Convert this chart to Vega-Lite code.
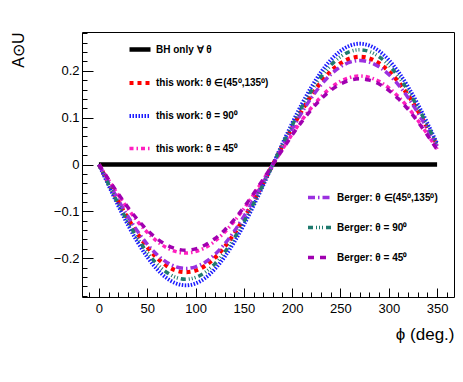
{
  "$schema": "https://vega.github.io/schema/vega-lite/v6.json",
  "width": 372,
  "height": 265,
  "autosize": "none",
  "padding": {"left": 82, "top": 32, "right": 9, "bottom": 85},
  "background": "white",
  "config": {
    "view": {"stroke": "#000000", "strokeWidth": 1},
    "font": "Liberation Sans",
    "axis": {"labelOverlap": false, "labelBound": false, "labelFlush": false, "domain": false, "grid": false, "tickColor": "#000000", "labelColor": "#000000", "labelFontSize": 13, "labelFont": "Liberation Sans", "titleColor": "#000000", "titleFont": "Liberation Sans", "titleFontWeight": "normal"}
  },
  "datasets": {
    "tw": [
      {"phi": 0, "A": 0, "s": "BH only ∀ θ"},
      {"phi": 350, "A": 0, "s": "BH only ∀ θ"},
      {"phi": 0, "A": 0, "s": "this work: θ ∈(45⁰,135⁰)"},
      {"phi": 10, "A": -0.0399, "s": "this work: θ ∈(45⁰,135⁰)"},
      {"phi": 20, "A": -0.0787, "s": "this work: θ ∈(45⁰,135⁰)"},
      {"phi": 30, "A": -0.115, "s": "this work: θ ∈(45⁰,135⁰)"},
      {"phi": 40, "A": -0.1478, "s": "this work: θ ∈(45⁰,135⁰)"},
      {"phi": 50, "A": -0.1762, "s": "this work: θ ∈(45⁰,135⁰)"},
      {"phi": 60, "A": -0.1992, "s": "this work: θ ∈(45⁰,135⁰)"},
      {"phi": 70, "A": -0.2161, "s": "this work: θ ∈(45⁰,135⁰)"},
      {"phi": 80, "A": -0.2265, "s": "this work: θ ∈(45⁰,135⁰)"},
      {"phi": 90, "A": -0.23, "s": "this work: θ ∈(45⁰,135⁰)"},
      {"phi": 100, "A": -0.2265, "s": "this work: θ ∈(45⁰,135⁰)"},
      {"phi": 110, "A": -0.2161, "s": "this work: θ ∈(45⁰,135⁰)"},
      {"phi": 120, "A": -0.1992, "s": "this work: θ ∈(45⁰,135⁰)"},
      {"phi": 130, "A": -0.1762, "s": "this work: θ ∈(45⁰,135⁰)"},
      {"phi": 140, "A": -0.1478, "s": "this work: θ ∈(45⁰,135⁰)"},
      {"phi": 150, "A": -0.115, "s": "this work: θ ∈(45⁰,135⁰)"},
      {"phi": 160, "A": -0.0787, "s": "this work: θ ∈(45⁰,135⁰)"},
      {"phi": 170, "A": -0.0399, "s": "this work: θ ∈(45⁰,135⁰)"},
      {"phi": 180, "A": 0, "s": "this work: θ ∈(45⁰,135⁰)"},
      {"phi": 190, "A": 0.0399, "s": "this work: θ ∈(45⁰,135⁰)"},
      {"phi": 200, "A": 0.0787, "s": "this work: θ ∈(45⁰,135⁰)"},
      {"phi": 210, "A": 0.115, "s": "this work: θ ∈(45⁰,135⁰)"},
      {"phi": 220, "A": 0.1478, "s": "this work: θ ∈(45⁰,135⁰)"},
      {"phi": 230, "A": 0.1762, "s": "this work: θ ∈(45⁰,135⁰)"},
      {"phi": 240, "A": 0.1992, "s": "this work: θ ∈(45⁰,135⁰)"},
      {"phi": 250, "A": 0.2161, "s": "this work: θ ∈(45⁰,135⁰)"},
      {"phi": 260, "A": 0.2265, "s": "this work: θ ∈(45⁰,135⁰)"},
      {"phi": 270, "A": 0.23, "s": "this work: θ ∈(45⁰,135⁰)"},
      {"phi": 280, "A": 0.2265, "s": "this work: θ ∈(45⁰,135⁰)"},
      {"phi": 290, "A": 0.2161, "s": "this work: θ ∈(45⁰,135⁰)"},
      {"phi": 300, "A": 0.1992, "s": "this work: θ ∈(45⁰,135⁰)"},
      {"phi": 310, "A": 0.1762, "s": "this work: θ ∈(45⁰,135⁰)"},
      {"phi": 320, "A": 0.1478, "s": "this work: θ ∈(45⁰,135⁰)"},
      {"phi": 330, "A": 0.115, "s": "this work: θ ∈(45⁰,135⁰)"},
      {"phi": 340, "A": 0.0787, "s": "this work: θ ∈(45⁰,135⁰)"},
      {"phi": 350, "A": 0.0399, "s": "this work: θ ∈(45⁰,135⁰)"},
      {"phi": 0, "A": 0, "s": "this work: θ = 90⁰"},
      {"phi": 10, "A": -0.0448, "s": "this work: θ = 90⁰"},
      {"phi": 20, "A": -0.0882, "s": "this work: θ = 90⁰"},
      {"phi": 30, "A": -0.129, "s": "this work: θ = 90⁰"},
      {"phi": 40, "A": -0.1658, "s": "this work: θ = 90⁰"},
      {"phi": 50, "A": -0.1976, "s": "this work: θ = 90⁰"},
      {"phi": 60, "A": -0.2234, "s": "this work: θ = 90⁰"},
      {"phi": 70, "A": -0.2424, "s": "this work: θ = 90⁰"},
      {"phi": 80, "A": -0.2541, "s": "this work: θ = 90⁰"},
      {"phi": 90, "A": -0.258, "s": "this work: θ = 90⁰"},
      {"phi": 100, "A": -0.2541, "s": "this work: θ = 90⁰"},
      {"phi": 110, "A": -0.2424, "s": "this work: θ = 90⁰"},
      {"phi": 120, "A": -0.2234, "s": "this work: θ = 90⁰"},
      {"phi": 130, "A": -0.1976, "s": "this work: θ = 90⁰"},
      {"phi": 140, "A": -0.1658, "s": "this work: θ = 90⁰"},
      {"phi": 150, "A": -0.129, "s": "this work: θ = 90⁰"},
      {"phi": 160, "A": -0.0882, "s": "this work: θ = 90⁰"},
      {"phi": 170, "A": -0.0448, "s": "this work: θ = 90⁰"},
      {"phi": 180, "A": 0, "s": "this work: θ = 90⁰"},
      {"phi": 190, "A": 0.0448, "s": "this work: θ = 90⁰"},
      {"phi": 200, "A": 0.0882, "s": "this work: θ = 90⁰"},
      {"phi": 210, "A": 0.129, "s": "this work: θ = 90⁰"},
      {"phi": 220, "A": 0.1658, "s": "this work: θ = 90⁰"},
      {"phi": 230, "A": 0.1976, "s": "this work: θ = 90⁰"},
      {"phi": 240, "A": 0.2234, "s": "this work: θ = 90⁰"},
      {"phi": 250, "A": 0.2424, "s": "this work: θ = 90⁰"},
      {"phi": 260, "A": 0.2541, "s": "this work: θ = 90⁰"},
      {"phi": 270, "A": 0.258, "s": "this work: θ = 90⁰"},
      {"phi": 280, "A": 0.2541, "s": "this work: θ = 90⁰"},
      {"phi": 290, "A": 0.2424, "s": "this work: θ = 90⁰"},
      {"phi": 300, "A": 0.2234, "s": "this work: θ = 90⁰"},
      {"phi": 310, "A": 0.1976, "s": "this work: θ = 90⁰"},
      {"phi": 320, "A": 0.1658, "s": "this work: θ = 90⁰"},
      {"phi": 330, "A": 0.129, "s": "this work: θ = 90⁰"},
      {"phi": 340, "A": 0.0882, "s": "this work: θ = 90⁰"},
      {"phi": 350, "A": 0.0448, "s": "this work: θ = 90⁰"},
      {"phi": 0, "A": 0, "s": "this work: θ = 45⁰"},
      {"phi": 10, "A": -0.0328, "s": "this work: θ = 45⁰"},
      {"phi": 20, "A": -0.0646, "s": "this work: θ = 45⁰"},
      {"phi": 30, "A": -0.0945, "s": "this work: θ = 45⁰"},
      {"phi": 40, "A": -0.1215, "s": "this work: θ = 45⁰"},
      {"phi": 50, "A": -0.1448, "s": "this work: θ = 45⁰"},
      {"phi": 60, "A": -0.1637, "s": "this work: θ = 45⁰"},
      {"phi": 70, "A": -0.1776, "s": "this work: θ = 45⁰"},
      {"phi": 80, "A": -0.1861, "s": "this work: θ = 45⁰"},
      {"phi": 90, "A": -0.189, "s": "this work: θ = 45⁰"},
      {"phi": 100, "A": -0.1861, "s": "this work: θ = 45⁰"},
      {"phi": 110, "A": -0.1776, "s": "this work: θ = 45⁰"},
      {"phi": 120, "A": -0.1637, "s": "this work: θ = 45⁰"},
      {"phi": 130, "A": -0.1448, "s": "this work: θ = 45⁰"},
      {"phi": 140, "A": -0.1215, "s": "this work: θ = 45⁰"},
      {"phi": 150, "A": -0.0945, "s": "this work: θ = 45⁰"},
      {"phi": 160, "A": -0.0646, "s": "this work: θ = 45⁰"},
      {"phi": 170, "A": -0.0328, "s": "this work: θ = 45⁰"},
      {"phi": 180, "A": 0, "s": "this work: θ = 45⁰"},
      {"phi": 190, "A": 0.0328, "s": "this work: θ = 45⁰"},
      {"phi": 200, "A": 0.0646, "s": "this work: θ = 45⁰"},
      {"phi": 210, "A": 0.0945, "s": "this work: θ = 45⁰"},
      {"phi": 220, "A": 0.1215, "s": "this work: θ = 45⁰"},
      {"phi": 230, "A": 0.1448, "s": "this work: θ = 45⁰"},
      {"phi": 240, "A": 0.1637, "s": "this work: θ = 45⁰"},
      {"phi": 250, "A": 0.1776, "s": "this work: θ = 45⁰"},
      {"phi": 260, "A": 0.1861, "s": "this work: θ = 45⁰"},
      {"phi": 270, "A": 0.189, "s": "this work: θ = 45⁰"},
      {"phi": 280, "A": 0.1861, "s": "this work: θ = 45⁰"},
      {"phi": 290, "A": 0.1776, "s": "this work: θ = 45⁰"},
      {"phi": 300, "A": 0.1637, "s": "this work: θ = 45⁰"},
      {"phi": 310, "A": 0.1448, "s": "this work: θ = 45⁰"},
      {"phi": 320, "A": 0.1215, "s": "this work: θ = 45⁰"},
      {"phi": 330, "A": 0.0945, "s": "this work: θ = 45⁰"},
      {"phi": 340, "A": 0.0646, "s": "this work: θ = 45⁰"},
      {"phi": 350, "A": 0.0328, "s": "this work: θ = 45⁰"}
    ],
    "bg": [
      {"phi": 0, "A": 0, "s": "Berger: θ ∈(45⁰,135⁰)"},
      {"phi": 10, "A": -0.0386, "s": "Berger: θ ∈(45⁰,135⁰)"},
      {"phi": 20, "A": -0.0759, "s": "Berger: θ ∈(45⁰,135⁰)"},
      {"phi": 30, "A": -0.111, "s": "Berger: θ ∈(45⁰,135⁰)"},
      {"phi": 40, "A": -0.1427, "s": "Berger: θ ∈(45⁰,135⁰)"},
      {"phi": 50, "A": -0.1701, "s": "Berger: θ ∈(45⁰,135⁰)"},
      {"phi": 60, "A": -0.1923, "s": "Berger: θ ∈(45⁰,135⁰)"},
      {"phi": 70, "A": -0.2086, "s": "Berger: θ ∈(45⁰,135⁰)"},
      {"phi": 80, "A": -0.2186, "s": "Berger: θ ∈(45⁰,135⁰)"},
      {"phi": 90, "A": -0.222, "s": "Berger: θ ∈(45⁰,135⁰)"},
      {"phi": 100, "A": -0.2186, "s": "Berger: θ ∈(45⁰,135⁰)"},
      {"phi": 110, "A": -0.2086, "s": "Berger: θ ∈(45⁰,135⁰)"},
      {"phi": 120, "A": -0.1923, "s": "Berger: θ ∈(45⁰,135⁰)"},
      {"phi": 130, "A": -0.1701, "s": "Berger: θ ∈(45⁰,135⁰)"},
      {"phi": 140, "A": -0.1427, "s": "Berger: θ ∈(45⁰,135⁰)"},
      {"phi": 150, "A": -0.111, "s": "Berger: θ ∈(45⁰,135⁰)"},
      {"phi": 160, "A": -0.0759, "s": "Berger: θ ∈(45⁰,135⁰)"},
      {"phi": 170, "A": -0.0386, "s": "Berger: θ ∈(45⁰,135⁰)"},
      {"phi": 180, "A": 0, "s": "Berger: θ ∈(45⁰,135⁰)"},
      {"phi": 190, "A": 0.0386, "s": "Berger: θ ∈(45⁰,135⁰)"},
      {"phi": 200, "A": 0.0759, "s": "Berger: θ ∈(45⁰,135⁰)"},
      {"phi": 210, "A": 0.111, "s": "Berger: θ ∈(45⁰,135⁰)"},
      {"phi": 220, "A": 0.1427, "s": "Berger: θ ∈(45⁰,135⁰)"},
      {"phi": 230, "A": 0.1701, "s": "Berger: θ ∈(45⁰,135⁰)"},
      {"phi": 240, "A": 0.1923, "s": "Berger: θ ∈(45⁰,135⁰)"},
      {"phi": 250, "A": 0.2086, "s": "Berger: θ ∈(45⁰,135⁰)"},
      {"phi": 260, "A": 0.2186, "s": "Berger: θ ∈(45⁰,135⁰)"},
      {"phi": 270, "A": 0.222, "s": "Berger: θ ∈(45⁰,135⁰)"},
      {"phi": 280, "A": 0.2186, "s": "Berger: θ ∈(45⁰,135⁰)"},
      {"phi": 290, "A": 0.2086, "s": "Berger: θ ∈(45⁰,135⁰)"},
      {"phi": 300, "A": 0.1923, "s": "Berger: θ ∈(45⁰,135⁰)"},
      {"phi": 310, "A": 0.1701, "s": "Berger: θ ∈(45⁰,135⁰)"},
      {"phi": 320, "A": 0.1427, "s": "Berger: θ ∈(45⁰,135⁰)"},
      {"phi": 330, "A": 0.111, "s": "Berger: θ ∈(45⁰,135⁰)"},
      {"phi": 340, "A": 0.0759, "s": "Berger: θ ∈(45⁰,135⁰)"},
      {"phi": 350, "A": 0.0386, "s": "Berger: θ ∈(45⁰,135⁰)"},
      {"phi": 0, "A": 0, "s": "Berger: θ = 90⁰"},
      {"phi": 10, "A": -0.0425, "s": "Berger: θ = 90⁰"},
      {"phi": 20, "A": -0.0838, "s": "Berger: θ = 90⁰"},
      {"phi": 30, "A": -0.1225, "s": "Berger: θ = 90⁰"},
      {"phi": 40, "A": -0.1575, "s": "Berger: θ = 90⁰"},
      {"phi": 50, "A": -0.1877, "s": "Berger: θ = 90⁰"},
      {"phi": 60, "A": -0.2122, "s": "Berger: θ = 90⁰"},
      {"phi": 70, "A": -0.2302, "s": "Berger: θ = 90⁰"},
      {"phi": 80, "A": -0.2413, "s": "Berger: θ = 90⁰"},
      {"phi": 90, "A": -0.245, "s": "Berger: θ = 90⁰"},
      {"phi": 100, "A": -0.2413, "s": "Berger: θ = 90⁰"},
      {"phi": 110, "A": -0.2302, "s": "Berger: θ = 90⁰"},
      {"phi": 120, "A": -0.2122, "s": "Berger: θ = 90⁰"},
      {"phi": 130, "A": -0.1877, "s": "Berger: θ = 90⁰"},
      {"phi": 140, "A": -0.1575, "s": "Berger: θ = 90⁰"},
      {"phi": 150, "A": -0.1225, "s": "Berger: θ = 90⁰"},
      {"phi": 160, "A": -0.0838, "s": "Berger: θ = 90⁰"},
      {"phi": 170, "A": -0.0425, "s": "Berger: θ = 90⁰"},
      {"phi": 180, "A": 0, "s": "Berger: θ = 90⁰"},
      {"phi": 190, "A": 0.0425, "s": "Berger: θ = 90⁰"},
      {"phi": 200, "A": 0.0838, "s": "Berger: θ = 90⁰"},
      {"phi": 210, "A": 0.1225, "s": "Berger: θ = 90⁰"},
      {"phi": 220, "A": 0.1575, "s": "Berger: θ = 90⁰"},
      {"phi": 230, "A": 0.1877, "s": "Berger: θ = 90⁰"},
      {"phi": 240, "A": 0.2122, "s": "Berger: θ = 90⁰"},
      {"phi": 250, "A": 0.2302, "s": "Berger: θ = 90⁰"},
      {"phi": 260, "A": 0.2413, "s": "Berger: θ = 90⁰"},
      {"phi": 270, "A": 0.245, "s": "Berger: θ = 90⁰"},
      {"phi": 280, "A": 0.2413, "s": "Berger: θ = 90⁰"},
      {"phi": 290, "A": 0.2302, "s": "Berger: θ = 90⁰"},
      {"phi": 300, "A": 0.2122, "s": "Berger: θ = 90⁰"},
      {"phi": 310, "A": 0.1877, "s": "Berger: θ = 90⁰"},
      {"phi": 320, "A": 0.1575, "s": "Berger: θ = 90⁰"},
      {"phi": 330, "A": 0.1225, "s": "Berger: θ = 90⁰"},
      {"phi": 340, "A": 0.0838, "s": "Berger: θ = 90⁰"},
      {"phi": 350, "A": 0.0425, "s": "Berger: θ = 90⁰"},
      {"phi": 0, "A": 0, "s": "Berger: θ = 45⁰"},
      {"phi": 10, "A": -0.0318, "s": "Berger: θ = 45⁰"},
      {"phi": 20, "A": -0.0626, "s": "Berger: θ = 45⁰"},
      {"phi": 30, "A": -0.0915, "s": "Berger: θ = 45⁰"},
      {"phi": 40, "A": -0.1176, "s": "Berger: θ = 45⁰"},
      {"phi": 50, "A": -0.1402, "s": "Berger: θ = 45⁰"},
      {"phi": 60, "A": -0.1585, "s": "Berger: θ = 45⁰"},
      {"phi": 70, "A": -0.172, "s": "Berger: θ = 45⁰"},
      {"phi": 80, "A": -0.1802, "s": "Berger: θ = 45⁰"},
      {"phi": 90, "A": -0.183, "s": "Berger: θ = 45⁰"},
      {"phi": 100, "A": -0.1802, "s": "Berger: θ = 45⁰"},
      {"phi": 110, "A": -0.172, "s": "Berger: θ = 45⁰"},
      {"phi": 120, "A": -0.1585, "s": "Berger: θ = 45⁰"},
      {"phi": 130, "A": -0.1402, "s": "Berger: θ = 45⁰"},
      {"phi": 140, "A": -0.1176, "s": "Berger: θ = 45⁰"},
      {"phi": 150, "A": -0.0915, "s": "Berger: θ = 45⁰"},
      {"phi": 160, "A": -0.0626, "s": "Berger: θ = 45⁰"},
      {"phi": 170, "A": -0.0318, "s": "Berger: θ = 45⁰"},
      {"phi": 180, "A": 0, "s": "Berger: θ = 45⁰"},
      {"phi": 190, "A": 0.0318, "s": "Berger: θ = 45⁰"},
      {"phi": 200, "A": 0.0626, "s": "Berger: θ = 45⁰"},
      {"phi": 210, "A": 0.0915, "s": "Berger: θ = 45⁰"},
      {"phi": 220, "A": 0.1176, "s": "Berger: θ = 45⁰"},
      {"phi": 230, "A": 0.1402, "s": "Berger: θ = 45⁰"},
      {"phi": 240, "A": 0.1585, "s": "Berger: θ = 45⁰"},
      {"phi": 250, "A": 0.172, "s": "Berger: θ = 45⁰"},
      {"phi": 260, "A": 0.1802, "s": "Berger: θ = 45⁰"},
      {"phi": 270, "A": 0.183, "s": "Berger: θ = 45⁰"},
      {"phi": 280, "A": 0.1802, "s": "Berger: θ = 45⁰"},
      {"phi": 290, "A": 0.172, "s": "Berger: θ = 45⁰"},
      {"phi": 300, "A": 0.1585, "s": "Berger: θ = 45⁰"},
      {"phi": 310, "A": 0.1402, "s": "Berger: θ = 45⁰"},
      {"phi": 320, "A": 0.1176, "s": "Berger: θ = 45⁰"},
      {"phi": 330, "A": 0.0915, "s": "Berger: θ = 45⁰"},
      {"phi": 340, "A": 0.0626, "s": "Berger: θ = 45⁰"},
      {"phi": 350, "A": 0.0318, "s": "Berger: θ = 45⁰"}
    ]
  },
  "layer": [
    {
      "data": {"name": "tw"},
      "mark": {"type": "line", "interpolate": "monotone", "strokeCap": "butt"},
      "encoding": {
        "x": {
          "field": "phi", "type": "quantitative",
          "scale": {"domain": [-17.5, 367.5], "nice": false, "zero": false},
          "axis": {
            "title": "ϕ (deg.)", "titleAnchor": "end", "titleFontSize": 17, "titlePadding": 7,
            "values": [-10, 0, 10, 20, 30, 40, 50, 60, 70, 80, 90, 100, 110, 120, 130, 140, 150, 160, 170, 180, 190, 200, 210, 220, 230, 240, 250, 260, 270, 280, 290, 300, 310, 320, 330, 340, 350, 360],
            "tickCount": 200,
            "labelExpr": "datum.value % 50 === 0 ? datum.label : ''",
            "format": "d",
            "labelOverlap": false,
            "tickSize": {"condition": {"test": "datum.value % 50 === 0", "value": -9}, "value": -5},
            "labelPadding": 14
          }
        },
        "y": {
          "field": "A", "type": "quantitative",
          "scale": {"domain": [-0.283, 0.283], "nice": false, "zero": false},
          "axis": {
            "title": "A⊙U", "titleFontSize": 16, "titleAngle": 270, "titleAlign": "right", "titleBaseline": "middle",
            "titleX": -64, "titleY": 0,
            "values": [-0.28, -0.26, -0.24, -0.22, -0.2, -0.18, -0.16, -0.14, -0.12, -0.1, -0.08, -0.06, -0.04, -0.02, 0, 0.02, 0.04, 0.06, 0.08, 0.1, 0.12, 0.14, 0.16, 0.18, 0.2, 0.22, 0.24, 0.26, 0.28],
            "tickCount": 200,
            "labelExpr": "abs(round(datum.value * 100)) % 10 === 0 ? format(datum.value, '~g') : ''",
            "labelOverlap": false,
            "tickSize": {"condition": {"test": "abs(round(datum.value * 100)) % 10 === 0", "value": -11}, "value": -5},
            "labelPadding": 14
          }
        },
        "color": {
          "field": "s", "type": "nominal",
          "scale": {"domain": ["BH only ∀ θ", "this work: θ ∈(45⁰,135⁰)", "this work: θ = 90⁰", "this work: θ = 45⁰"], "range": ["#000000", "#ff0000", "#1a1aff", "#ff1fbf"]},
          "legend": {
            "title": null, "orient": "none", "legendX": 45, "legendY": 4.5, "symbolType": "stroke",
            "symbolSize": 441, "rowPadding": 11.5, "labelOffset": 3, "labelFontSize": 10, "labelFontWeight": "bold",
            "labelFont": "Liberation Sans", "labelColor": "#000000", "padding": 0, "labelLimit": 300
          }
        },
        "strokeDash": {
          "field": "s", "type": "nominal",
          "scale": {"domain": ["BH only ∀ θ", "this work: θ ∈(45⁰,135⁰)", "this work: θ = 90⁰", "this work: θ = 45⁰"], "range": [[1, 0], [4, 4], [1.5, 1.5], [4, 3, 1.5, 3]]}
        },
        "strokeWidth": {
          "field": "s", "type": "nominal",
          "scale": {"domain": ["BH only ∀ θ", "this work: θ ∈(45⁰,135⁰)", "this work: θ = 90⁰", "this work: θ = 45⁰"], "range": [4.5, 3.5, 3, 3.5]}
        }
      }
    },
    {
      "data": {"name": "bg"},
      "mark": {"type": "line", "interpolate": "monotone", "strokeCap": "butt"},
      "encoding": {
        "x": {"field": "phi", "type": "quantitative"},
        "y": {"field": "A", "type": "quantitative"},
        "color": {
          "field": "s", "type": "nominal",
          "scale": {"domain": ["Berger: θ ∈(45⁰,135⁰)", "Berger: θ = 90⁰", "Berger: θ = 45⁰"], "range": ["#9b30e0", "#1f7a6e", "#a000b0"]},
          "legend": {
            "title": null, "orient": "none", "legendX": 224, "legendY": 151.5, "symbolType": "stroke",
            "symbolSize": 576, "rowPadding": 9, "labelOffset": 3, "labelFontSize": 10, "labelFontWeight": "bold",
            "labelFont": "Liberation Sans", "labelColor": "#000000", "padding": 0, "labelLimit": 300
          }
        },
        "strokeDash": {
          "field": "s", "type": "nominal",
          "scale": {"domain": ["Berger: θ ∈(45⁰,135⁰)", "Berger: θ = 90⁰", "Berger: θ = 45⁰"], "range": [[7, 3, 1.5, 3], [5, 3, 1, 2, 1, 2, 1, 3], [6, 6]]}
        },
        "strokeWidth": {
          "field": "s", "type": "nominal",
          "scale": {"domain": ["Berger: θ ∈(45⁰,135⁰)", "Berger: θ = 90⁰", "Berger: θ = 45⁰"], "range": [3.5, 3.5, 3.5]}
        }
      }
    }
  ],
  "resolve": {"scale": {"color": "independent", "strokeDash": "independent", "strokeWidth": "independent"}}
}
